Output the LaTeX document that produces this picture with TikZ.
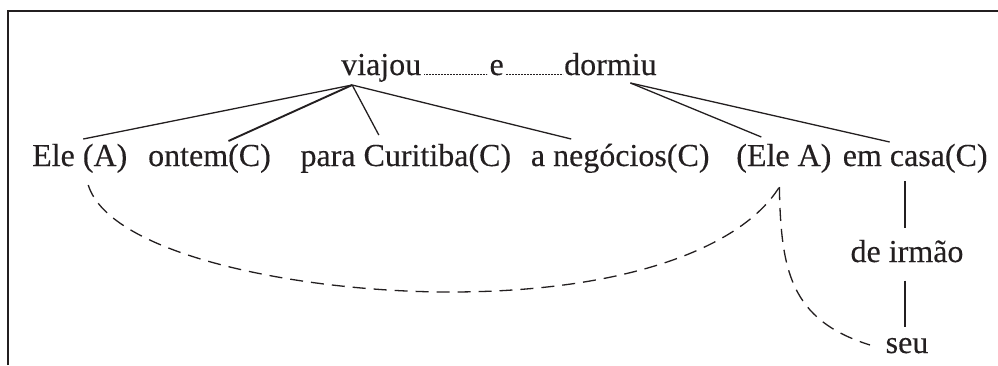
\documentclass[tikz,border=0pt]{standalone}
\usepackage{fontspec}
\setmainfont[FakeBold=0.25]{Liberation Serif}
\usepackage{tikz}
\usetikzlibrary{positioning, calc}
\definecolor{ink}{RGB}{35,31,32}
\tikzstyle{Word} = [
inner sep=0pt, text=ink,
font=\fontsize{32}{38}\selectfont]
\tikzstyle{Link} = [line width=1.3pt, draw=ink]
\tikzstyle{Ref} = [Link, dash pattern=on 13pt off 8pt]
\tikzstyle{Dots} = [line width=0.8pt, draw=ink, dash pattern=on 0.8pt off 0.7pt]

\begin{document}
\begin{tikzpicture}[x=1pt, y=-1pt]
    \useasboundingbox (0,0) rectangle (998,365);
    \draw[draw=ink, line width=1.8pt] (8,365) -- (8,11);
    \draw[draw=ink, line width=1.2pt] (7.1,11) -- (998,11);
    % verbs
    \node [Word, anchor=base west] (9) at (341,75) {viajou};
    \node [Word, base right=68pt of 9] (10) {e};
    \node [Word, base right=60pt of 10] (11) {dormiu};
    % arguments
    \node [Word, anchor=base west] (1) at (32,166) {Ele (A)};
    \node [Word, base right=20.5pt of 1] (2) {ontem(C)};
    \node [Word, base right=29.3pt of 2] (3) {para Curitiba(C)};
    \node [Word, base right=19.4pt of 3] (4) {a negócios(C)};
    \node [Word, base right=26.4pt of 4] (5) {(Ele A)};
    \node [Word, base right=11pt of 5] (6) {em casa(C)};
    \node [Word, anchor=base] (7) at (907,262) {de irmão};
    \node [Word, anchor=base] (8) at (907,353) {seu};
    \coordinate (V) at ([xshift=-29pt, yshift=-10pt]9.base);
    \coordinate (D) at ([xshift=20pt, yshift=-8pt]11.base);
    \coordinate (L) at ([xshift=-2pt]7.north);
    \coordinate (T) at ([yshift=-8pt]6.south);
    \draw[Dots] ([xshift=3pt, yshift=0.6pt]9.base east) -- ([xshift=-2pt, yshift=0.6pt]10.base west);
    \draw[Dots] ([xshift=2pt, yshift=0.6pt]10.base east) -- ([xshift=-1pt, yshift=0.6pt]11.base west);
    \draw[Link] (V) -- ([xshift=3.5pt, yshift=27pt]1.base);
    \draw[Link, line width=1.9pt] (V) -- ([xshift=19pt, yshift=25pt]2.base);
    \draw[Link] (V) -- ([xshift=-27pt, yshift=31pt]3.base);
    \draw[Link] (V) -- ([xshift=-49pt, yshift=27pt]4.base);
    \draw[Link] (D) -- ([xshift=-22.5pt, yshift=29pt]5.base);
    \draw[Link] (D) -- ([xshift=-25.5pt, yshift=24pt]6.base);
    \draw[Link] (T -| L) -- ([yshift=12pt]L);
    \draw[Link] ([xshift=-2pt, yshift=-18pt]7.south) -- ([xshift=-2pt, yshift=11pt]8.north);
    % coreference
    \coordinate (R) at ([xshift=-4.5pt, yshift=-21pt]5.base);
    \draw[Ref] ([xshift=8.5pt, yshift=-19pt]1.base) .. controls (110,255) and (300,292) .. (450,292)
        .. controls (620,292) and (740,250) .. (R);
    \draw[Ref] (R) .. controls (781,270) and (790,320) .. ([xshift=-37pt, yshift=8pt]8.base);
\end{tikzpicture}
\end{document}
